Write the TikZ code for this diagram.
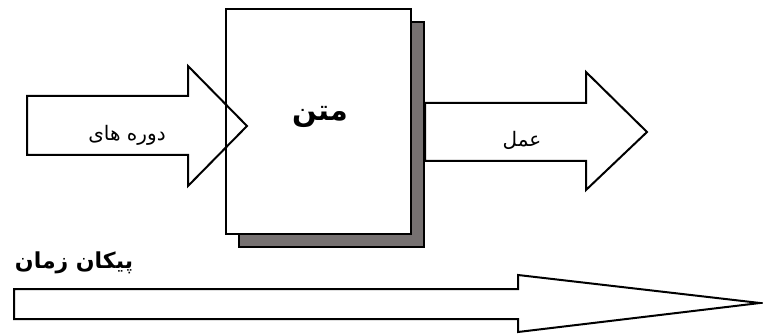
\documentclass[tikz,border=0pt]{standalone}
\usepackage{fontspec}
\newfontfamily\arabicfont[Script=Arabic]{DejaVu Sans}
\TeXXeTstate=1
\definecolor{shadowgray}{HTML}{767171}
\begin{document}
\begin{tikzpicture}[x=1pt,y=-1pt,
  outl/.style={draw=black,line width=2pt,line join=miter},
  lbl/.style={inner sep=0pt,font=\arabicfont\fontsize{20}{24}\selectfont},
  boldlbl/.style={inner sep=0pt,font=\arabicfont\bfseries\fontsize{22}{26}\selectfont}]
\useasboundingbox (0,0) rectangle (763,334);
% shadow and main box
\path[outl,fill=shadowgray] (239,22) rectangle (424,247);
\path[outl,fill=white] (226,9) rectangle (411,234);
\node[inner sep=0pt,font=\arabicfont\bfseries\fontsize{29}{33}\selectfont] (matn) at (320,117) {\beginR متن\endR};
% left input arrow
\draw[outl] (27,96) -- (188,96) -- (188,66) -- (247,126) -- (188,186) -- (188,155) -- (27,155) -- cycle;
\node[lbl] (dore) at (127,135) {\beginR دوره های\endR};
% right output arrow
\draw[outl,fill=white] (425,103) -- (586,103) -- (586,72) -- (647,132) -- (586,190) -- (586,161) -- (425,161) -- cycle;
\node[lbl] (amal) at (522,140) {\beginR عمل\endR};
% time arrow
\node[boldlbl] (title) at (74,263) {\beginR پیکان زمان\endR};
\draw[outl,fill=white] (14,289) -- (518,289) -- (518,275) -- (760,303) -- (518,332) -- (518,319) -- (14,319) -- cycle;
\end{tikzpicture}
\end{document}
